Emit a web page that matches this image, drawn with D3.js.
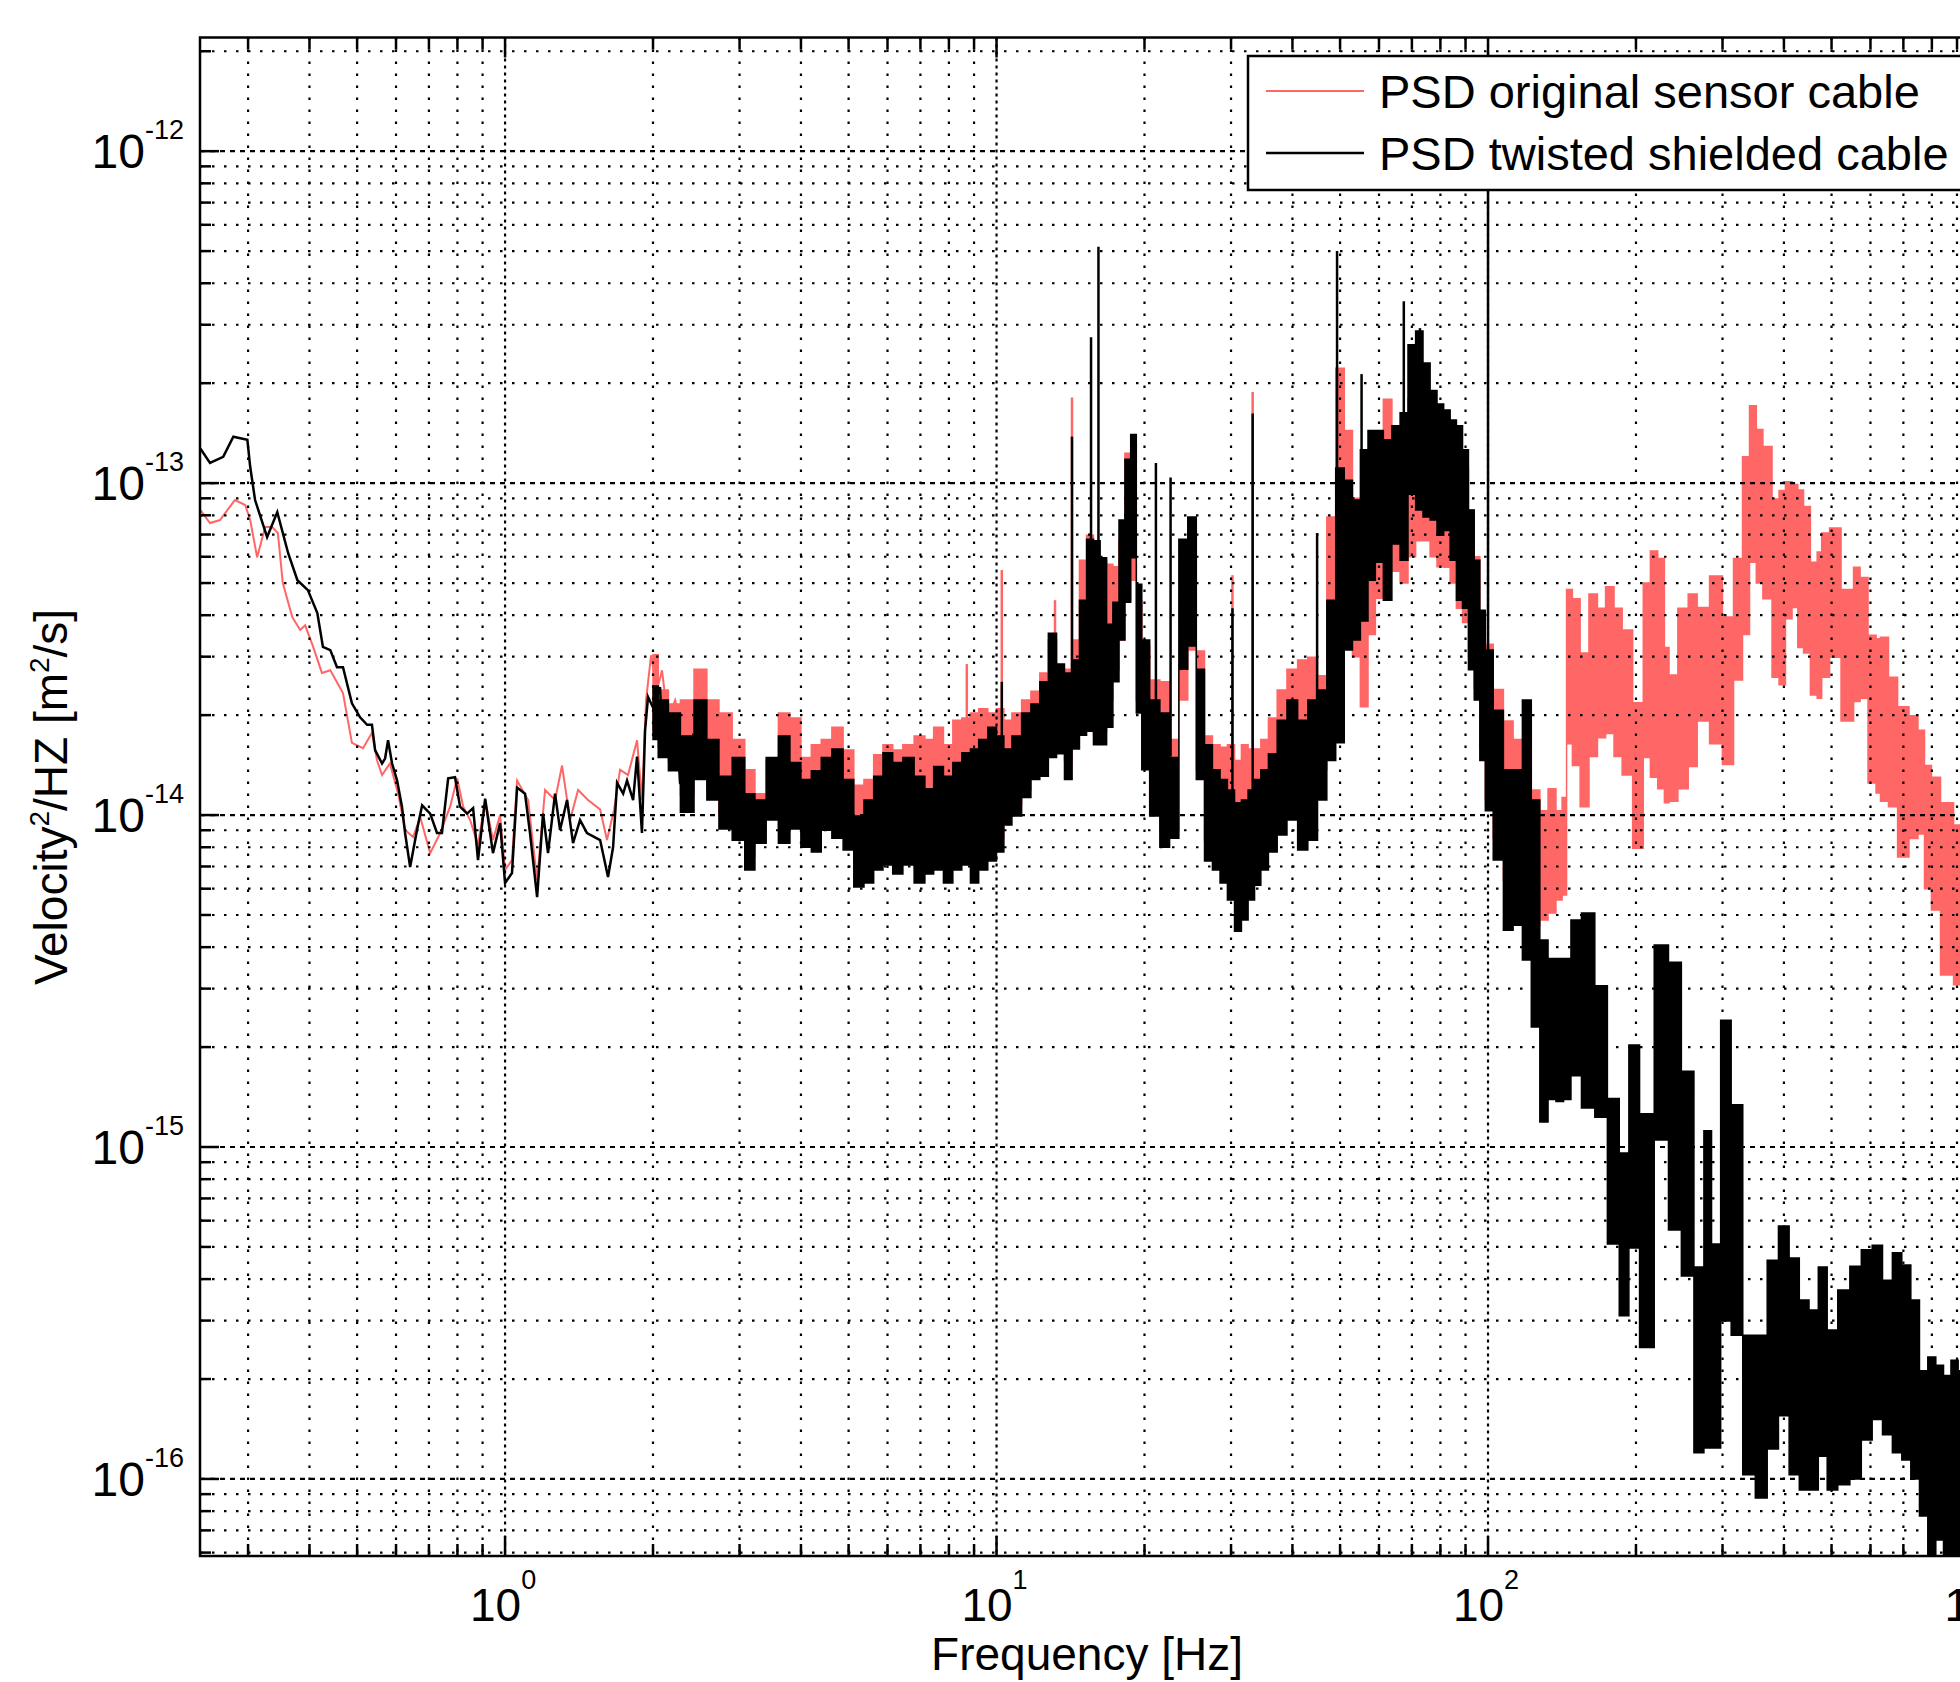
<!DOCTYPE html>
<html>
<head>
<meta charset="utf-8">
<script src="https://d3js.org/d3.v7.min.js"></script>
<style>
  body { margin: 0; background: #fff; }
  svg { display: block; font-family: "Liberation Sans", Arial, Helvetica, sans-serif; }
</style>
</head>
<body>
<script>
// ---- data ----
// tick label exponents
var xLabelExp = [0, 1, 2, 3];
var yLabelExp = [-16, -15, -14, -13, -12];

var seriesNames = ["PSD original sensor cable", "PSD twisted shielded cable"];

// low frequency part, single line  [Hz, PSD]
var blackTrace = [
  [0.24, 1.27e-13], [0.251, 1.15e-13], [0.267, 1.2e-13], [0.28, 1.38e-13], [0.299, 1.35e-13],
  [0.303, 1.12e-13], [0.31, 8.89e-14], [0.328, 6.88e-14], [0.344, 8.18e-14], [0.362, 6.15e-14],
  [0.378, 5.1e-14], [0.397, 4.76e-14], [0.415, 4.06e-14], [0.426, 3.21e-14], [0.441, 3.14e-14],
  [0.455, 2.79e-14], [0.468, 2.79e-14], [0.488, 2.17e-14], [0.507, 1.97e-14], [0.524, 1.87e-14],
  [0.536, 1.87e-14], [0.544, 1.57e-14], [0.562, 1.43e-14], [0.57, 1.48e-14], [0.578, 1.68e-14],
  [0.589, 1.43e-14], [0.603, 1.27e-14], [0.617, 1.06e-14], [0.626, 8.83e-15], [0.641, 6.97e-15],
  [0.662, 9.01e-15], [0.678, 1.07e-14], [0.704, 1.01e-14], [0.727, 8.83e-15], [0.744, 8.83e-15],
  [0.766, 1.29e-14], [0.791, 1.30e-14], [0.81, 1.06e-14], [0.837, 1.01e-14], [0.861, 1.05e-14],
  [0.881, 7.32e-15], [0.911, 1.12e-14], [0.945, 7.68e-15], [0.977, 9.46e-15], [1.0, 6.24e-15],
  [1.033, 6.69e-15], [1.058, 1.21e-14], [1.098, 1.16e-14], [1.124, 8.83e-15], [1.162, 5.66e-15],
  [1.195, 1.01e-14], [1.223, 7.68e-15], [1.264, 1.16e-14], [1.294, 9.01e-15], [1.337, 1.11e-14],
  [1.375, 8.23e-15], [1.421, 9.66e-15], [1.468, 8.83e-15], [1.561, 8.41e-15], [1.62, 6.51e-15],
  [1.659, 8.01e-15], [1.69, 1.25e-14], [1.739, 1.16e-14], [1.771, 1.27e-14], [1.822, 1.11e-14],
  [1.856, 1.50e-14], [1.899, 8.83e-15], [1.927, 1.80e-14], [1.954, 2.27e-14], [2.0, 2.11e-14],
  [2.067, 2.43e-14], [2.097, 1.50e-14], [2.166, 1.80e-14], [2.239, 1.77e-14], [2.27, 1.25e-14],
  [2.346, 1.19e-14], [2.413, 1.72e-14], [2.493, 1.57e-14]
];

var redTrace = [
  [0.24, 8.29e-14], [0.251, 7.58e-14], [0.263, 7.74e-14], [0.282, 8.89e-14], [0.296, 8.59e-14],
  [0.303, 7.74e-14], [0.313, 5.98e-14], [0.325, 7.37e-14], [0.336, 7.37e-14], [0.345, 7.07e-14],
  [0.353, 5.0e-14], [0.369, 3.95e-14], [0.383, 3.61e-14], [0.392, 3.73e-14], [0.407, 3.21e-14],
  [0.424, 2.68e-14], [0.441, 2.73e-14], [0.468, 2.33e-14], [0.488, 1.65e-14], [0.514, 1.59e-14],
  [0.536, 1.77e-14], [0.549, 1.46e-14], [0.562, 1.32e-14], [0.583, 1.43e-14], [0.606, 1.16e-14],
  [0.626, 9.01e-15], [0.65, 8.59e-15], [0.672, 9.86e-15], [0.704, 7.68e-15], [0.738, 8.83e-15],
  [0.773, 1.06e-14], [0.799, 1.29e-14], [0.822, 1.06e-14], [0.849, 9.66e-15], [0.881, 8.12e-15],
  [0.911, 1.11e-14], [0.945, 8.41e-15], [0.977, 1.0e-14], [1.0, 6.83e-15], [1.033, 7.32e-15],
  [1.058, 1.27e-14], [1.114, 1.11e-14], [1.162, 6.37e-15], [1.206, 1.19e-14], [1.264, 1.11e-14],
  [1.306, 1.41e-14], [1.356, 9.66e-15], [1.408, 1.19e-14], [1.475, 1.11e-14], [1.561, 1.04e-14],
  [1.612, 8.41e-15], [1.667, 1.04e-14], [1.714, 1.37e-14], [1.779, 1.32e-14], [1.856, 1.68e-14],
  [1.899, 1.11e-14], [1.936, 2.22e-14], [1.982, 3.03e-14], [2.038, 2.38e-14], [2.086, 2.73e-14],
  [2.146, 1.93e-14], [2.218, 2.22e-14], [2.302, 1.80e-14], [2.379, 1.93e-14], [2.493, 1.74e-14]
];

// dense noisy part, envelope  [Hz, lower PSD, upper PSD]
var blackBand = [
  [2.0, 1.69e-14, 2.45e-14], [2.1, 1.49e-14, 2.22e-14], [2.2, 1.36e-14, 2.03e-14], [2.35, 1.02e-14, 1.73e-14],
  [2.5, 1.28e-14, 2.22e-14], [2.65, 1.11e-14, 1.69e-14], [2.8, 9.08e-15, 1.31e-14], [3.0, 8.4e-15, 1.49e-14],
  [3.15, 6.83e-15, 1.16e-14], [3.3, 8.23e-15, 1.11e-14], [3.5, 9.66e-15, 1.49e-14], [3.7, 8.23e-15, 1.73e-14],
  [3.9, 9.08e-15, 1.44e-14], [4.1, 8.0e-15, 1.28e-14], [4.3, 7.74e-15, 1.36e-14], [4.5, 9.0e-15, 1.49e-14],
  [4.75, 8.52e-15, 1.58e-14], [5.0, 7.85e-15, 1.28e-14], [5.25, 6.07e-15, 9.93e-15], [5.5, 6.24e-15, 1.11e-14],
  [5.75, 6.83e-15, 1.31e-14], [6.0, 7.07e-15, 1.54e-14], [6.3, 6.64e-15, 1.44e-14], [6.6, 7.07e-15, 1.49e-14],
  [7.0, 6.24e-15, 1.31e-14], [7.3, 6.64e-15, 1.20e-14], [7.6, 6.83e-15, 1.40e-14], [8.0, 6.24e-15, 1.31e-14],
  [8.3, 6.83e-15, 1.44e-14], [8.7, 7.07e-15, 1.54e-14], [9.0, 6.24e-15, 1.58e-14], [9.4, 6.83e-15, 1.69e-14],
  [9.8, 7.27e-15, 1.84e-14], [10.2, 7.74e-15, 1.73e-14], [10.5, 9.33e-15, 1.58e-14], [11, 9.93e-15, 1.73e-14],
  [11.5, 1.13e-14, 2.03e-14], [12, 1.28e-14, 2.16e-14], [12.5, 1.31e-14, 2.52e-14], [13, 1.49e-14, 3.53e-14],
  [13.5, 1.53e-14, 2.85e-14], [14, 1.28e-14, 2.68e-14], [14.5, 1.58e-14, 2.93e-14], [15, 1.74e-14, 4.44e-14],
  [15.5, 1.79e-14, 6.78e-14], [16, 1.63e-14, 6.71e-14], [16.5, 1.63e-14, 5.96e-14], [17, 1.84e-14, 3.76e-14],
  [17.5, 2.52e-14, 4.38e-14], [18, 3.37e-14, 7.74e-14], [18.5, 4.38e-14, 1.18e-13], [19, 5.96e-14, 1.40e-13],
  [19.5, 2.03e-14, 4.96e-14], [20, 1.37e-14, 3.37e-14], [21, 9.93e-15, 2.22e-14], [22, 8.0e-15, 2.03e-14],
  [23, 8.52e-15, 1.49e-14], [24, 2.75e-14, 6.78e-14], [25, 3.23e-14, 7.9e-14], [26, 1.28e-14, 2.75e-14],
  [27, 7.27e-15, 1.63e-14], [28, 6.83e-15, 1.37e-14], [29, 6.24e-15, 1.28e-14], [30, 5.55e-15, 1.19e-14],
  [31, 4.47e-15, 1.09e-14], [32, 4.83e-15, 1.11e-14], [33, 5.55e-15, 1.19e-14], [34, 6.15e-15, 1.28e-14],
  [35, 6.83e-15, 1.37e-14], [36.5, 7.74e-15, 1.53e-14], [38, 8.71e-15, 1.93e-14], [40, 9.66e-15, 2.22e-14],
  [42, 7.85e-15, 1.93e-14], [44, 8.4e-15, 2.22e-14], [46, 1.11e-14, 2.38e-14], [48, 1.46e-14, 4.44e-14],
  [50, 1.65e-14, 1.11e-13], [52, 3.14e-14, 1.02e-13], [54, 3.37e-14, 8.89e-14], [56, 3.84e-14, 1.26e-13],
  [58, 5.1e-14, 1.44e-13], [60, 5.78e-14, 1.44e-13], [62.5, 4.44e-14, 1.35e-13], [65, 6.55e-14, 1.49e-13],
  [67.5, 5.86e-14, 1.63e-13], [70, 9.26e-14, 2.61e-13], [72.5, 8.3e-14, 2.87e-13], [75, 7.9e-14, 2.30e-13],
  [77.5, 7.74e-14, 1.90e-13], [80, 6.97e-14, 1.73e-13], [82.5, 7.2e-14, 1.66e-13], [85, 5.86e-14, 1.55e-13],
  [87.5, 4.44e-14, 1.49e-13], [90, 4.2e-14, 1.26e-13], [92.5, 2.74e-14, 8.3e-14], [95, 2.22e-14, 5.86e-14],
  [97.5, 1.46e-14, 4.14e-14], [100, 1.03e-14, 3.14e-14], [105, 7.32e-15, 2.07e-14], [110, 4.5e-15, 1.37e-14],
  [115, 4.66e-15, 1.37e-14], [120, 3.66e-15, 2.22e-14], [125, 2.30e-15, 1.11e-14], [130, 1.19e-15, 4.2e-15],
  [135, 1.39e-15, 3.7e-15], [140, 1.37e-15, 3.7e-15], [145, 1.39e-15, 3.7e-15], [150, 1.64e-15, 4.83e-15],
  [160, 1.31e-15, 5.07e-15], [170, 1.23e-15, 3.06e-15], [180, 5.1e-16, 1.40e-15], [190, 3.1e-16, 9.6e-16],
  [197, 4.96e-16, 2.03e-15], [210, 2.49e-16, 1.26e-15], [226, 1.05e-15, 4.06e-15], [240, 5.62e-16, 3.6e-15],
  [255, 4.09e-16, 1.69e-15], [270, 1.2e-16, 4.35e-16], [280, 1.24e-16, 1.12e-15], [290, 1.24e-16, 5.1e-16],
  [305, 2.99e-16, 2.41e-15], [320, 2.71e-16, 1.34e-15], [340, 1.03e-16, 2.71e-16], [360, 8.77e-17, 2.71e-16],
  [380, 1.23e-16, 4.56e-16], [400, 1.55e-16, 5.78e-16], [420, 1.03e-16, 4.63e-16], [440, 9.26e-17, 3.46e-16],
  [460, 9.26e-17, 3.23e-16], [480, 1.17e-16, 4.35e-16], [500, 9.26e-17, 2.81e-16], [530, 9.6e-17, 3.71e-16],
  [560, 1.0e-16, 4.37e-16], [590, 1.31e-16, 4.9e-16], [620, 1.51e-16, 5.06e-16], [650, 1.36e-16, 3.97e-16],
  [680, 1.2e-16, 4.8e-16], [710, 1.14e-16, 4.41e-16], [740, 1.0e-16, 3.46e-16], [770, 7.74e-17, 2.12e-16],
  [800, 5.7e-17, 2.33e-16], [830, 6.55e-17, 2.2e-16], [860, 5.7e-17, 2.05e-16], [890, 5.7e-17, 2.28e-16],
  [920, 5.7e-17, 2.12e-16], [1000, 5.7e-17, 2.12e-16]
];

var redBand = [
  [2.0, 1.8e-14, 3.04e-14], [2.1, 1.6e-14, 2.38e-14], [2.2, 1.45e-14, 2.16e-14], [2.35, 1.15e-14, 2.22e-14],
  [2.5, 1.35e-14, 2.75e-14], [2.65, 1.2e-14, 2.22e-14], [2.8, 1.0e-14, 2.03e-14], [3.0, 9.0e-15, 1.69e-14],
  [3.15, 7.5e-15, 1.37e-14], [3.3, 8.8e-15, 1.16e-14], [3.5, 1.0e-14, 1.46e-14], [3.7, 9.0e-15, 2.03e-14],
  [3.9, 9.8e-15, 1.96e-14], [4.1, 8.8e-15, 1.49e-14], [4.3, 8.5e-15, 1.63e-14], [4.5, 9.8e-15, 1.69e-14],
  [4.75, 9.3e-15, 1.84e-14], [5.0, 8.5e-15, 1.57e-14], [5.25, 6.8e-15, 1.23e-14], [5.5, 7.0e-15, 1.28e-14],
  [5.75, 7.5e-15, 1.52e-14], [6.0, 7.8e-15, 1.63e-14], [6.3, 7.3e-15, 1.57e-14], [6.6, 7.8e-15, 1.63e-14],
  [7.0, 7.0e-15, 1.73e-14], [7.3, 7.3e-15, 1.69e-14], [7.6, 7.5e-15, 1.84e-14], [8.0, 7.0e-15, 1.63e-14],
  [8.3, 7.5e-15, 1.93e-14], [8.7, 7.8e-15, 1.96e-14], [9.0, 7.0e-15, 2.03e-14], [9.4, 7.5e-15, 2.09e-14],
  [9.8, 8.0e-15, 2.03e-14], [10.2, 8.5e-15, 2.09e-14], [10.5, 1.0e-14, 1.93e-14], [11, 1.08e-14, 2.03e-14],
  [11.5, 1.19e-14, 2.22e-14], [12, 1.37e-14, 2.36e-14], [12.5, 1.43e-14, 2.68e-14], [13, 1.69e-14, 3.37e-14],
  [13.5, 1.69e-14, 2.75e-14], [14, 1.46e-14, 2.75e-14], [14.5, 1.74e-14, 3.37e-14], [15, 1.93e-14, 5.86e-14],
  [15.5, 2.0e-14, 6.97e-14], [16, 1.74e-14, 5.86e-14], [16.5, 1.79e-14, 5.86e-14], [17, 2.22e-14, 5.7e-14],
  [17.5, 2.73e-14, 5.6e-14], [18, 3.37e-14, 6.74e-14], [18.5, 4.44e-14, 1.23e-13], [19, 5.1e-14, 7.2e-14],
  [19.5, 2.22e-14, 4.44e-14], [20, 1.46e-14, 3.23e-14], [21, 1.11e-14, 2.55e-14], [22, 9.0e-15, 2.52e-14],
  [23, 9.0e-15, 1.69e-14], [24, 2.22e-14, 2.85e-14], [25, 3.14e-14, 7.2e-14], [26, 1.37e-14, 3.12e-14],
  [27, 8.4e-15, 1.73e-14], [28, 7.85e-15, 1.63e-14], [29, 7.3e-15, 1.6e-14], [30, 6.37e-15, 1.63e-14],
  [31, 5.55e-15, 1.46e-14], [32, 5.74e-15, 1.63e-14], [33, 6.37e-15, 1.58e-14], [34, 7.07e-15, 1.58e-14],
  [35, 7.85e-15, 1.69e-14], [36.5, 9.0e-15, 1.96e-14], [38, 1.04e-14, 2.38e-14], [40, 1.11e-14, 2.75e-14],
  [42, 1.11e-14, 2.93e-14], [44, 1.19e-14, 2.99e-14], [46, 1.37e-14, 2.63e-14], [48, 2.22e-14, 7.9e-14],
  [50, 4.44e-14, 2.22e-13], [52, 3.5e-14, 1.44e-13], [54, 3.0e-14, 9.0e-14], [56, 2.12e-14, 8.0e-14],
  [58, 3.5e-14, 1.1e-13], [60, 4.5e-14, 1.2e-13], [62.5, 5.43e-14, 1.79e-13], [65, 5.43e-14, 1.3e-13],
  [67.5, 5.0e-14, 1.3e-13], [70, 6.0e-14, 1.8e-13], [72.5, 6.7e-14, 2.0e-13], [75, 6.71e-14, 1.6e-13],
  [77.5, 6.0e-14, 1.5e-13], [80, 5.6e-14, 1.4e-13], [82.5, 5.58e-14, 1.4e-13], [85, 5.0e-14, 1.3e-13],
  [87.5, 4.2e-14, 1.2e-13], [90, 3.8e-14, 1.1e-13], [92.5, 3.0e-14, 8.3e-14], [95, 2.4e-14, 6.0e-14],
  [97.5, 1.6e-14, 3.87e-14], [100, 1.11e-14, 3.27e-14], [105, 8.5e-15, 2.39e-14], [110, 6.37e-15, 1.92e-14],
  [115, 6.0e-15, 1.69e-14], [120, 5.55e-15, 1.49e-14], [125, 4.66e-15, 1.19e-14], [130, 4.83e-15, 1.03e-14],
  [135, 5.07e-15, 1.20e-14], [140, 5.55e-15, 1.03e-14], [143, 5.74e-15, 1.13e-14], [146, 1.64e-14, 4.78e-14],
  [151, 1.41e-14, 4.48e-14], [157, 1.06e-14, 3.08e-14], [164, 1.5e-14, 4.63e-14], [170, 1.71e-14, 4.2e-14],
  [177, 1.76e-14, 4.87e-14], [184, 1.5e-14, 4.2e-14], [191, 1.32e-14, 3.61e-14], [203, 7.95e-15, 2.18e-14],
  [211, 1.49e-14, 5.0e-14], [217, 1.3e-14, 6.24e-14], [226, 1.2e-14, 5.93e-14], [231, 1.09e-14, 3.2e-14],
  [236, 1.1e-14, 2.64e-14], [251, 1.20e-14, 4.2e-14], [260, 1.4e-14, 4.63e-14], [273, 1.92e-14, 4.22e-14],
  [292, 1.64e-14, 5.25e-14], [308, 1.42e-14, 3.95e-14], [324, 2.55e-14, 5.93e-14], [335, 3.5e-14, 1.2e-13],
  [346, 5.78e-14, 1.71e-13], [357, 5.0e-14, 1.45e-13], [368, 4.48e-14, 1.29e-13], [389, 2.6e-14, 8.96e-14],
  [393, 2.47e-14, 9.5e-14], [413, 3.9e-14, 1.01e-13], [418, 4.22e-14, 9.9e-14], [436, 3.2e-14, 9.53e-14],
  [441, 3.08e-14, 8.5e-14], [465, 2.3e-14, 5.78e-14], [470, 2.25e-14, 6.2e-14], [485, 2.6e-14, 7.07e-14],
  [506, 2.99e-14, 7.32e-14], [540, 1.92e-14, 4.78e-14], [569, 2.2e-14, 5.58e-14], [574, 2.25e-14, 5.2e-14],
  [613, 1.25e-14, 3.48e-14], [619, 1.165e-14, 3.4e-14], [639, 1.1e-14, 3.43e-14], [667, 1.06e-14, 2.6e-14],
  [696, 7.47e-15, 2.12e-14], [742, 8.5e-15, 1.99e-14], [757, 8.77e-15, 1.8e-14], [789, 6.0e-15, 1.41e-14],
  [808, 5.18e-15, 1.3e-14], [859, 3.30e-15, 1.09e-14], [913, 3.08e-15, 9.33e-15], [1000, 2.8e-15, 8.5e-15]
];

// narrow lines sticking out of the band  [Hz, from PSD, to PSD]
var blackSpikes = [
  [10.25, 1.5e-14, 2.52e-14], [14.24, 2.5e-14, 1.38e-13], [15.57, 4.0e-14, 2.75e-13], [16.12, 4.0e-14, 5.15e-13],
  [21.1, 1.5e-14, 1.15e-13], [22.6, 1.5e-14, 1.04e-13], [30.2, 1.0e-14, 4.2e-14], [33.2, 1.0e-14, 1.62e-13],
  [44.9, 2.0e-14, 7.07e-14], [49.3, 3.0e-14, 5.0e-13], [55.3, 8.0e-14, 2.13e-13], [67.4, 1.2e-13, 3.53e-13],
  [72.7, 1.5e-13, 2.93e-13], [100, 2.0e-14, 1.0e-12]
];
var redSpikes = [
  [8.7, 1.5e-14, 2.85e-14], [10.25, 1.5e-14, 5.47e-14], [13.15, 2.0e-14, 4.44e-14],
  [14.24, 2.5e-14, 1.81e-13], [30.2, 1.0e-14, 5.28e-14], [33.2, 1.0e-14, 1.88e-13]
];

var red = "#ff6666", black = "#000000";

// ---- layout ----
var W = 1960, H = 1682;
var plot = {left: 200, top: 37.5, right: 1979.5, bottom: 1556};

var svg = d3.select("body").append("svg")
    .attr("width", W)
    .attr("height", H);

var xScale = d3.scaleLog()
    .domain([0.2395, 1000])
    .range([plot.left, plot.right]);

var yScale = d3.scaleLog()
    .domain([5.86e-17, 2.2e-12])
    .range([plot.bottom, plot.top]);

svg.append("clipPath").attr("id", "clip")
  .append("rect")
    .attr("x", plot.left).attr("y", plot.top)
    .attr("width", plot.right - plot.left)
    .attr("height", plot.bottom - plot.top);

var isDecade = function(v) {
  var l = Math.log10(v);
  return Math.abs(l - Math.round(l)) < 1e-6;
};

// ---- data ----
// step curve gives the vertical, hatched edges of the dense PSD trace
var area = d3.area()
    .curve(d3.curveStep)
    .x(function(d) { return xScale(d[0]); })
    .y0(function(d) { return yScale(d[1]); })
    .y1(function(d) { return yScale(d[2]); });

var line = d3.line()
    .x(function(d) { return xScale(d[0]); })
    .y(function(d) { return yScale(d[1]); });

var dataG = svg.append("g").attr("clip-path", "url(#clip)");

function drawSeries(trace, band, spikes, color, lw) {
  dataG.append("path")
      .datum(band)
      .attr("d", area)
      .attr("fill", color)
      .attr("stroke", color)
      .attr("stroke-width", 1.5);

  dataG.append("path")
      .datum(trace)
      .attr("d", line)
      .attr("fill", "none")
      .attr("stroke", color)
      .attr("stroke-width", lw);

  dataG.selectAll(null)
      .data(spikes)
    .enter().append("line")
      .attr("x1", function(d) { return xScale(d[0]); })
      .attr("x2", function(d) { return xScale(d[0]); })
      .attr("y1", function(d) { return yScale(d[1]); })
      .attr("y2", function(d) { return yScale(d[2]); })
      .attr("stroke", color)
      .attr("stroke-width", 2.5);
}

drawSeries(redTrace, redBand, redSpikes, red, 2);
drawSeries(blackTrace, blackBand, blackSpikes, black, 2.5);

// ---- grid (drawn over the data, as in the original) ----
var xTicks = xScale.ticks();
var yTicks = yScale.ticks();

var gridG = svg.append("g").attr("clip-path", "url(#clip)");

gridG.selectAll(".vgrid")
    .data(xTicks)
  .enter().append("line")
    .attr("x1", function(d) { return xScale(d); })
    .attr("x2", function(d) { return xScale(d); })
    .attr("y1", plot.top)
    .attr("y2", plot.bottom)
    .attr("stroke", "#000")
    .attr("stroke-width", 2.2)
    .attr("stroke-dasharray", function(d) { return isDecade(d) ? "3,4" : "2.5,9.5"; });

gridG.selectAll(".hgrid")
    .data(yTicks)
  .enter().append("line")
    .attr("x1", plot.left)
    .attr("x2", plot.right)
    .attr("y1", function(d) { return yScale(d); })
    .attr("y2", function(d) { return yScale(d); })
    .attr("stroke", "#000")
    .attr("stroke-width", 2.2)
    .attr("stroke-dasharray", function(d) { return isDecade(d) ? "5,5" : "2.5,9.5"; });

// ---- frame and ticks ----
var axG = svg.append("g")
    .attr("stroke", "#000")
    .attr("stroke-width", 2.5);

axG.selectAll(".xt-b")
    .data(xTicks)
  .enter().append("line")
    .attr("x1", function(d) { return xScale(d); })
    .attr("x2", function(d) { return xScale(d); })
    .attr("y1", plot.bottom)
    .attr("y2", function(d) { return plot.bottom - (isDecade(d) ? 20 : 12); });

axG.selectAll(".xt-t")
    .data(xTicks)
  .enter().append("line")
    .attr("x1", function(d) { return xScale(d); })
    .attr("x2", function(d) { return xScale(d); })
    .attr("y1", plot.top)
    .attr("y2", function(d) { return plot.top + (isDecade(d) ? 20 : 12); });

axG.selectAll(".yt-l")
    .data(yTicks)
  .enter().append("line")
    .attr("x1", plot.left)
    .attr("x2", function(d) { return plot.left + (isDecade(d) ? 19 : 11); })
    .attr("y1", function(d) { return yScale(d); })
    .attr("y2", function(d) { return yScale(d); });

axG.append("rect")
    .attr("x", plot.left)
    .attr("y", plot.top)
    .attr("width", plot.right - plot.left)
    .attr("height", plot.bottom - plot.top)
    .attr("fill", "none");

// ---- tick labels ----
var xl = svg.selectAll(".xlab")
    .data(xLabelExp)
  .enter().append("text")
    .attr("x", function(d) { return xScale(Math.pow(10, d)) - 2; })
    .attr("y", 1621)
    .attr("text-anchor", "middle")
    .attr("font-size", 46);
xl.append("tspan").text("10");
xl.append("tspan").attr("dy", -32).attr("font-size", 27).text(function(d) { return d; });

var yl = svg.selectAll(".ylab")
    .data(yLabelExp)
  .enter().append("text")
    .attr("x", 184)
    .attr("y", function(d) { return yScale(Math.pow(10, d)) + 17; })
    .attr("text-anchor", "end")
    .attr("font-size", 48);
yl.append("tspan").text("10");
yl.append("tspan").attr("dy", -29).attr("font-size", 27).text(function(d) { return d; });

// ---- axis titles ----
svg.append("text")
    .attr("x", 1087)
    .attr("y", 1670)
    .attr("text-anchor", "middle")
    .attr("font-size", 46)
    .text("Frequency [Hz]");

var yt = svg.append("text")
    .attr("transform", "translate(67,797) rotate(-90)")
    .attr("text-anchor", "middle")
    .attr("font-size", 46);
yt.append("tspan").text("Velocity");
yt.append("tspan").attr("dy", -18).attr("font-size", 28).text("2");
yt.append("tspan").attr("dy", 18).text("/HZ [m");
yt.append("tspan").attr("dy", -18).attr("font-size", 28).text("2");
yt.append("tspan").attr("dy", 18).text("/s]");

// ---- legend ----
var lg = svg.append("g");
lg.append("rect")
    .attr("x", 1248).attr("y", 56)
    .attr("width", 730).attr("height", 134)
    .attr("fill", "#fff")
    .attr("stroke", "#000")
    .attr("stroke-width", 2.5);

var legendColors = [red, black];
seriesNames.forEach(function(name, i) {
  var yy = 91 + i * 62;
  lg.append("line")
      .attr("x1", 1266).attr("x2", 1364)
      .attr("y1", yy).attr("y2", yy)
      .attr("stroke", legendColors[i])
      .attr("stroke-width", i === 0 ? 2 : 2.5);
  lg.append("text")
      .attr("x", 1379)
      .attr("y", yy + 17)
      .attr("font-size", 47)
      .text(name);
});
</script>
</body>
</html>
